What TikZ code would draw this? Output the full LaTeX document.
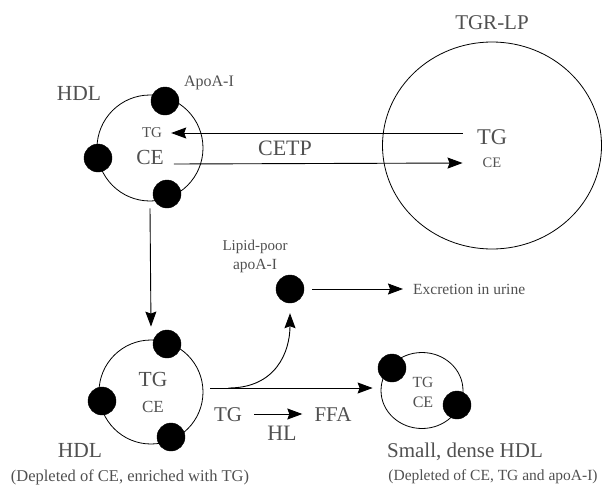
\documentclass[tikz,border=0pt]{standalone}
\usepackage{fontspec}
\setmainfont{Liberation Serif}
\usetikzlibrary{arrows.meta,shapes.geometric}
\definecolor{txt}{HTML}{505050}
\newcommand{\fsz}[1]{\fontsize{#1}{#1}\selectfont}
\tikzset{
  lbl/.style={inner sep=0pt, text=txt},
  particle/.style={draw=black, line width=0.8pt, inner sep=0pt},
  apo/.style={circle, fill=black, draw=black, minimum size=28pt, inner sep=0pt},
  arr/.style={line width=0.9pt, -{Stealth[length=15pt,width=11pt,inset=2pt]}},
}
\begin{document}
\begin{tikzpicture}[x=1pt,y=-1pt]
\useasboundingbox (0,0) rectangle (602,485);

% --- top HDL ---
\node[particle, circle, minimum size=106pt] (hdl1) at (150,148) {};
\node[apo] (d1a) at (165,101) {};
\node[apo] (d1b) at (98,158) {};
\node[apo] (d1c) at (167,194) {};
\node[lbl, font=\fsz{21.5}] (hdl1lbl) at (79,93) {HDL};
\node[lbl, font=\fsz{16}] (apoa) at (209,83) {ApoA-I};
\node[lbl, font=\fsz{15}] (tg1) at (152,133) {TG};
\node[lbl, font=\fsz{21.5}] (ce1) at (150,157) {CE};

% --- TGR-LP ---
\node[particle, ellipse, minimum width=219pt, minimum height=207pt] (tgr) at (492,145.5) {};
\node[lbl, font=\fsz{21}] (tgrlbl) at (492,23) {TGR-LP};
\node[lbl, font=\fsz{22.5}] (tgbig) at (492,137) {TG};
\node[lbl, font=\fsz{14.5}] (cebig) at (492,163) {CE};

% CETP exchange
\draw[arr] ([xshift=-14pt,yshift=4pt]tgbig.west) -- ([xshift=9pt]tg1.east);
\draw[arr] ([xshift=10pt,yshift=-7pt]ce1.east) -- ([xshift=-20pt]cebig.west);
\node[lbl, font=\fsz{22}] (cetp) at (285,148) {CETP};

% --- bottom HDL ---
\node[particle, circle, minimum size=104pt] (hdl2) at (151,392) {};
\node[apo] (d2a) at (167,344) {};
\node[apo] (d2b) at (102,401) {};
\node[apo] (d2c) at (171,437) {};
\node[lbl, font=\fsz{21.5}] (tg2) at (153,379) {TG};
\node[lbl, font=\fsz{17}] (ce2) at (153,407) {CE};
\node[lbl, font=\fsz{21.5}] (hdl2lbl) at (80,450) {HDL};
\node[lbl, font=\fsz{16.5}] (dep1) at (130,477) {(Depleted of CE, enriched with TG)};

\draw[arr] ([yshift=-7pt]hdl1.south) -- ([yshift=13pt]hdl2.north);

% --- lipid-poor apoA-I ---
\node[apo] (lp) at (290,289) {};
\node[lbl, font=\fsz{15}] (lp1) at (255,247) {Lipid-poor};
\node[lbl, font=\fsz{15.5}] (lp2) at (255,266) {apoA-I};
\node[lbl, font=\fsz{15.5}, anchor=west] (urine) at (413,289) {Excretion in urine};
\draw[arr] ([xshift=8pt]lp.east) -- ([xshift=-10pt]urine.west);

% --- small dense HDL ---
\node[particle, ellipse, minimum width=82pt, minimum height=76pt] (sd) at (422,390.5) {};
\node[apo] (d3a) at (392,368) {};
\node[apo] (d3b) at (457,405) {};
\node[lbl, font=\fsz{15.5}] (tg3) at (423,382) {TG};
\node[lbl, font=\fsz{16}] (ce3) at (423,402) {CE};
\node[lbl, font=\fsz{21}] (sdlbl) at (465,452) {Small, dense HDL};
\node[lbl, font=\fsz{15.5}] (dep2) at (493,477) {(Depleted of CE, TG and apoA-I)};

% conversions
\draw[arr] ([shift={(7pt,4pt)}]hdl2.east) -- ([shift={(-8pt,2.5pt)}]sd.west);
\draw[arr] ([shift={(25pt,4pt)}]hdl2.east) .. controls +(48pt,0pt) and +(0pt,-38pt) .. ([yshift=-10pt]lp.south);

% hepatic lipase
\node[lbl, font=\fsz{21}] (tg4) at (228,415) {TG};
\node[lbl, font=\fsz{21}] (ffa) at (333,415) {FFA};
\draw[arr] ([xshift=12pt,yshift=1pt]tg4.east) -- ([xshift=-12pt,yshift=1pt]ffa.west);
\node[lbl, font=\fsz{22}] (hl) at (282,433) {HL};
\end{tikzpicture}
\end{document}
